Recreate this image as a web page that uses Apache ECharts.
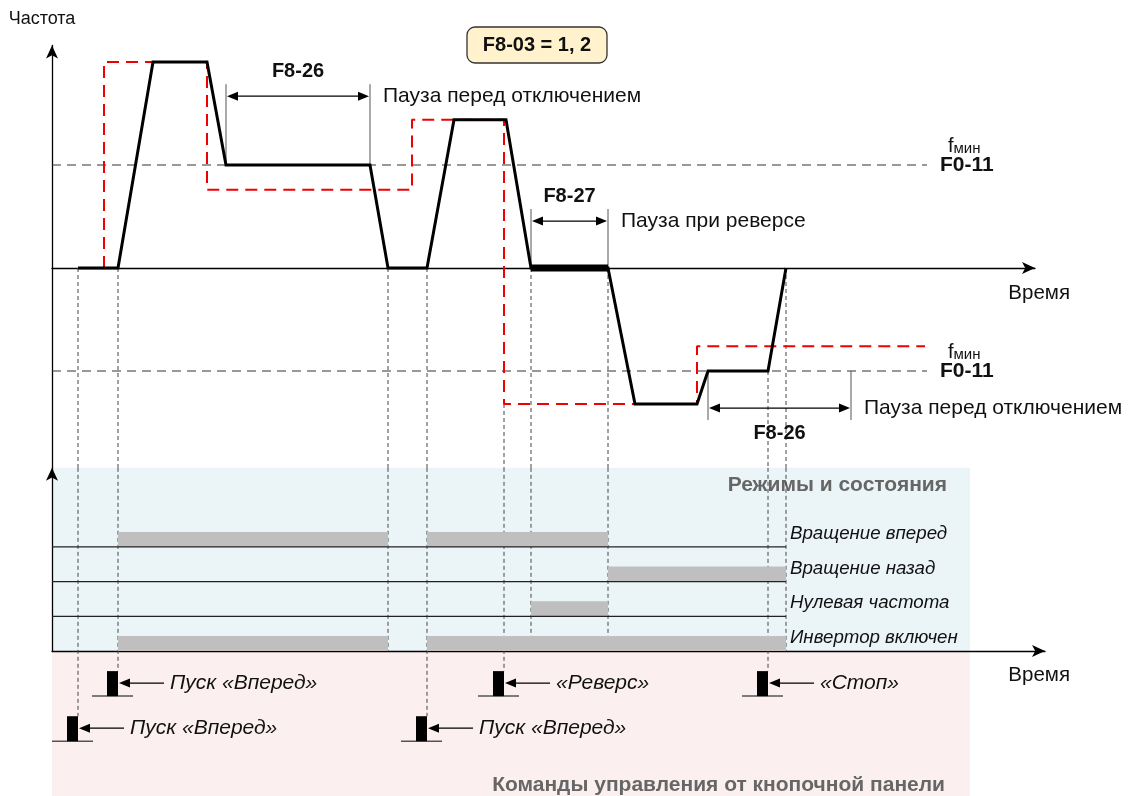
<!DOCTYPE html>
<html>
<head>
<meta charset="utf-8">
<title>F8-03 = 1, 2</title>
<script src="https://cdn.jsdelivr.net/npm/echarts@6/dist/echarts.min.js"></script>
<style>
  html, body { margin: 0; padding: 0; background: #fff; }
  #chart { width: 1133px; height: 796px; }
</style>
</head>
<body>
<div id="chart"></div>
<script>
// ---- data: time in drawing units from the origin, frequency in Hz ----
const outTime = [26, 66, 101, 155, 174, 318, 336, 375, 402, 454, 479, 556, 583, 645, 656, 716, 734];
const outFreq = [0, 0, 50, 50, 25, 25, 0, 0, 36, 36, 0, 0, -33, -33, -25, -25, 0];
const refTime = [52, 52, 155, 155, 360, 360, 452, 452, 645, 645, 873];
const refFreq = [0, 50, 50, 19, 19, 36, 36, -33, -33, -19, -19];
const reverseHold = [479, 556];
const fMin = 25;
const fMinEnd = 875;

// dimension arrows (pauses)
const spanCode = ['F8-26', 'F8-27', 'F8-26'];
const spanNote = ['Пауза перед отключением', 'Пауза при реверсе', 'Пауза перед отключением'];
const spanFrom = [174, 479, 656];
const spanTo = [318, 556, 799];
const spanBase = [25, 0, -25];
const spanAt = [41.7, 11.4, -34];

// vertical guides: start on the trace, end on status axis (0) or command row (1, 2)
const guideTime = [26, 66, 336, 375, 452, 479, 556, 716, 734];
const guideFreq = [0, 0, 0, 0, -33, 0, 0, -25, 0];
const guideLane = [2, 1, 0, 2, 1, 0, 0, 1, 0];

// status rows, bottom to top
const statusRows = ['Инвертор включен', 'Нулевая частота', 'Вращение назад', 'Вращение вперед'];
const runOn = [[66, 336], [375, 734]];
const zeroOn = [[479, 556]];
const revOn = [[556, 734]];
const fwdOn = [[66, 336], [375, 556]];
const statusEnd = 734;

// keypad commands
const cmdLabel = ['Пуск «Вперед»', 'Пуск «Вперед»', 'Пуск «Вперед»', '«Реверс»', '«Стоп»'];
const cmdTime = [26, 66, 375, 452, 716];
const cmdRow = [2, 1, 2, 1, 1];

// ---- layout ----
const FONT = '"Liberation Sans", Arial, sans-serif';
const X0 = 52;
const ZERO_Y = 268;
const HZ_PX = 4.12;
const F_TOP = 54;
const F_BOTTOM = -48.5;
const TOP_AXIS_END = 1035;
const LOW_AXIS_Y = 651;
const LOW_AXIS_END = 1045;
const ROW_PX = 34.7;
const CMD_LEVEL = [0, -1.3, -2.6];
const BAR_H = 15;
const PULSE_W = 11;
const PULSE_H = 25;
const PANEL_RIGHT = 970;

const gridTop0 = ZERO_Y - F_TOP * HZ_PX;
const gridH0 = (F_TOP - F_BOTTOM) * HZ_PX;
const gridTop1 = gridTop0 + gridH0;
const gridH1 = LOW_AXIS_Y - gridTop1;
const LANE_TOP = gridH1 / ROW_PX;

const statusBars = [];
[runOn, zeroOn, revOn, fwdOn].forEach((spans, row) => {
  spans.forEach(([a, b]) => statusBars.push([a, b, row]));
});

function pairs(xs, ys) {
  return xs.map((x, i) => [x, ys[i]]);
}

function seg(x1, y1, x2, y2, style) {
  return { type: 'line', shape: { x1, y1, x2, y2 }, style };
}

function label(x, y, text, extra) {
  return {
    type: 'text', x, y,
    style: Object.assign({ text, fill: '#111', fontFamily: FONT, fontSize: 21, align: 'left', verticalAlign: 'middle' }, extra)
  };
}

function renderFmin(params, api) {
  const f = api.value(1);
  const p0 = api.coord([0, f]);
  const p1 = api.coord([api.value(0), f]);
  return {
    type: 'group',
    children: [
      seg(p0[0], p0[1], p1[0], p1[1], { stroke: '#333', lineWidth: 1.2, lineDash: [9, 6] }),
      {
        type: 'text', x: p1[0] + 21, y: p1[1] - 9,
        style: {
          text: '{f|f}{s|мин}', fill: '#111', align: 'left', verticalAlign: 'bottom',
          rich: {
            f: { fontSize: 20, fontFamily: FONT, verticalAlign: 'bottom' },
            s: { fontSize: 15, fontFamily: FONT, verticalAlign: 'bottom' }
          }
        }
      },
      label(p1[0] + 13, p1[1], 'F0-11', { fontWeight: 'bold' })
    ]
  };
}

function renderGuideTop(params, api) {
  const t = api.value(0);
  const p = api.coord([t, api.value(1)]);
  const q = api.coord([t, F_BOTTOM]);
  return seg(p[0], p[1], q[0], q[1], { stroke: '#444', lineWidth: 1, lineDash: [4, 3] });
}

function renderGuideLow(params, api) {
  const t = api.value(0);
  const lane = api.value(1);
  const p = api.coord([t, LANE_TOP]);
  const q = api.coord([t, CMD_LEVEL[lane]]);
  const yEnd = lane === 0 ? q[1] : q[1] - PULSE_H;
  return seg(p[0], p[1], q[0], yEnd, { stroke: '#444', lineWidth: 1, lineDash: [4, 3] });
}

function renderSpan(params, api) {
  const i = params.dataIndex;
  const a = api.coord([api.value(0), api.value(2)]);
  const b = api.coord([api.value(1), api.value(2)]);
  const y = api.coord([0, api.value(3)])[1];
  const dir = y < a[1] ? -1 : 1;
  const ext = y + dir * 12;
  const head = 11, half = 4.5;
  return {
    type: 'group',
    children: [
      seg(a[0], a[1], a[0], ext, { stroke: '#555', lineWidth: 1 }),
      seg(b[0], b[1], b[0], ext, { stroke: '#555', lineWidth: 1 }),
      seg(a[0] + head, y, b[0] - head, y, { stroke: '#000', lineWidth: 1.3 }),
      { type: 'polygon', shape: { points: [[a[0] + 1, y], [a[0] + head + 1, y - half], [a[0] + head + 1, y + half]] }, style: { fill: '#000' } },
      { type: 'polygon', shape: { points: [[b[0] - 1, y], [b[0] - head - 1, y - half], [b[0] - head - 1, y + half]] }, style: { fill: '#000' } },
      label((a[0] + b[0]) / 2, y + dir * 25, spanCode[i], { fontWeight: 'bold', fontSize: 20, align: 'center' }),
      label(b[0] + 13, y, spanNote[i])
    ]
  };
}

function renderBar(params, api) {
  const p = api.coord([api.value(0), api.value(2)]);
  const q = api.coord([api.value(1), api.value(2)]);
  return {
    type: 'rect',
    shape: { x: p[0], y: p[1] - BAR_H, width: q[0] - p[0], height: BAR_H },
    style: { fill: '#bfbfbf' }
  };
}

function renderRow(params, api) {
  const i = params.dataIndex;
  const p0 = api.coord([0, api.value(1)]);
  const p1 = api.coord([api.value(0), api.value(1)]);
  const children = [
    label(p1[0] + 4, p1[1] - 13, statusRows[i], { fontSize: 18.7, fontStyle: 'italic' })
  ];
  if (i > 0) children.push(seg(p0[0], p0[1], p1[0], p1[1], { stroke: '#222', lineWidth: 1.3 }));
  return { type: 'group', children };
}

function renderCmd(params, api) {
  const i = params.dataIndex;
  const p = api.coord([api.value(0), CMD_LEVEL[api.value(1)]]);
  const x = p[0], y = p[1];
  const ya = y - 13;
  return {
    type: 'group',
    children: [
      seg(x - PULSE_W - 15, y, x + 15, y, { stroke: '#555', lineWidth: 1.5 }),
      { type: 'rect', shape: { x: x - PULSE_W, y: y - PULSE_H, width: PULSE_W, height: PULSE_H }, style: { fill: '#000' } },
      seg(x + 10, ya, x + 46, ya, { stroke: '#000', lineWidth: 1.3 }),
      { type: 'polygon', shape: { points: [[x + 1, ya], [x + 12, ya - 4.5], [x + 12, ya + 4.5]] }, style: { fill: '#000' } },
      label(x + 52, ya, cmdLabel[i], { fontStyle: 'italic' })
    ]
  };
}

const axisLine = (show) => ({
  show,
  symbol: ['none', 'arrow'],
  symbolSize: [9, 13],
  lineStyle: { color: '#000', width: 1.3 }
});
const noDeco = { axisTick: { show: false }, axisLabel: { show: false }, splitLine: { show: false } };

const chart = echarts.init(document.getElementById('chart'), null, { renderer: 'canvas' });

chart.setOption({
  animation: false,
  backgroundColor: '#fff',
  textStyle: { fontFamily: FONT },
  grid: [
    { left: X0, top: gridTop0, width: TOP_AXIS_END - X0, height: gridH0, outerBoundsMode: 'none' },
    { left: X0, top: gridTop1, width: LOW_AXIS_END - X0, height: gridH1, outerBoundsMode: 'none' }
  ],
  xAxis: [
    Object.assign({
      gridIndex: 0, type: 'value', min: 0, max: TOP_AXIS_END - X0,
      axisLine: axisLine(true),
      name: 'Время', nameLocation: 'end', nameGap: 35,
      nameTextStyle: { fontSize: 20.5, color: '#111', align: 'right', verticalAlign: 'top', padding: [15, 0, 0, 0] }
    }, noDeco),
    Object.assign({
      gridIndex: 1, type: 'value', min: 0, max: LOW_AXIS_END - X0,
      axisLine: axisLine(true),
      name: 'Время', nameLocation: 'end', nameGap: 25,
      nameTextStyle: { fontSize: 20.5, color: '#111', align: 'right', verticalAlign: 'top', padding: [14, 0, 0, 0] }
    }, noDeco)
  ],
  yAxis: [
    Object.assign({
      gridIndex: 0, type: 'value', min: F_BOTTOM, max: F_TOP,
      axisLine: axisLine(true),
      name: 'Частота', nameLocation: 'end', nameGap: 17,
      nameTextStyle: { fontSize: 18, color: '#111', padding: [0, 20, 0, 0] }
    }, noDeco),
    Object.assign({
      gridIndex: 1, type: 'value', min: 0, max: LANE_TOP,
      axisLine: axisLine(true)
    }, noDeco)
  ],
  graphic: [
    { type: 'rect', z: -1, shape: { x: X0, y: gridTop1, width: PANEL_RIGHT - X0, height: LOW_AXIS_Y - gridTop1 }, style: { fill: '#ebf5f8' } },
    { type: 'rect', z: -1, shape: { x: X0, y: LOW_AXIS_Y, width: PANEL_RIGHT - X0, height: 796 - LOW_AXIS_Y }, style: { fill: '#fcefef' } },
    { type: 'text', x: 947, y: 485, style: { text: 'Режимы и состояния', align: 'right', verticalAlign: 'middle', fontFamily: FONT, fontSize: 21, fontWeight: 'bold', fill: '#666' } },
    { type: 'text', x: 945, y: 785, style: { text: 'Команды управления от кнопочной панели', align: 'right', verticalAlign: 'middle', fontFamily: FONT, fontSize: 21, fontWeight: 'bold', fill: '#666' } },
    {
      type: 'group', x: 467, y: 27,
      children: [
        { type: 'rect', shape: { x: 0, y: 0, width: 140, height: 36, r: 8 }, style: { fill: '#fff2cc', stroke: '#333', lineWidth: 1.3 } },
        { type: 'text', x: 70, y: 18, style: { text: 'F8-03 = 1, 2', align: 'center', verticalAlign: 'middle', fontFamily: FONT, fontSize: 20, fontWeight: 'bold', fill: '#111' } }
      ]
    }
  ],
  series: [
    { type: 'custom', name: 'fmin', xAxisIndex: 0, yAxisIndex: 0, silent: true, renderItem: renderFmin,
      data: [[fMinEnd, fMin], [fMinEnd, -fMin]] },
    { type: 'custom', name: 'guides', xAxisIndex: 0, yAxisIndex: 0, silent: true, renderItem: renderGuideTop,
      data: pairs(guideTime, guideFreq) },
    { type: 'custom', name: 'guides-low', xAxisIndex: 1, yAxisIndex: 1, silent: true, renderItem: renderGuideLow,
      data: pairs(guideTime, guideLane) },
    { type: 'line', name: 'reference', xAxisIndex: 0, yAxisIndex: 0, silent: true, symbol: 'none',
      data: pairs(refTime, refFreq),
      lineStyle: { color: '#f00000', width: 2, type: [12, 7] } },
    { type: 'line', name: 'output', xAxisIndex: 0, yAxisIndex: 0, silent: true, symbol: 'none',
      data: pairs(outTime, outFreq),
      lineStyle: { color: '#000', width: 3, join: 'miter' } },
    { type: 'line', name: 'hold', xAxisIndex: 0, yAxisIndex: 0, silent: true, symbol: 'none',
      data: reverseHold.map((t) => [t, 0]),
      lineStyle: { color: '#000', width: 7 } },
    { type: 'custom', name: 'spans', xAxisIndex: 0, yAxisIndex: 0, silent: true, renderItem: renderSpan,
      data: spanFrom.map((t, i) => [t, spanTo[i], spanBase[i], spanAt[i]]) },
    { type: 'custom', name: 'status', xAxisIndex: 1, yAxisIndex: 1, silent: true, renderItem: renderBar,
      data: statusBars },
    { type: 'custom', name: 'rows', xAxisIndex: 1, yAxisIndex: 1, silent: true, renderItem: renderRow,
      data: statusRows.map((n, i) => [statusEnd, i]) },
    { type: 'custom', name: 'commands', xAxisIndex: 1, yAxisIndex: 1, silent: true, renderItem: renderCmd,
      data: pairs(cmdTime, cmdRow) }
  ]
});
</script>
</body>
</html>
